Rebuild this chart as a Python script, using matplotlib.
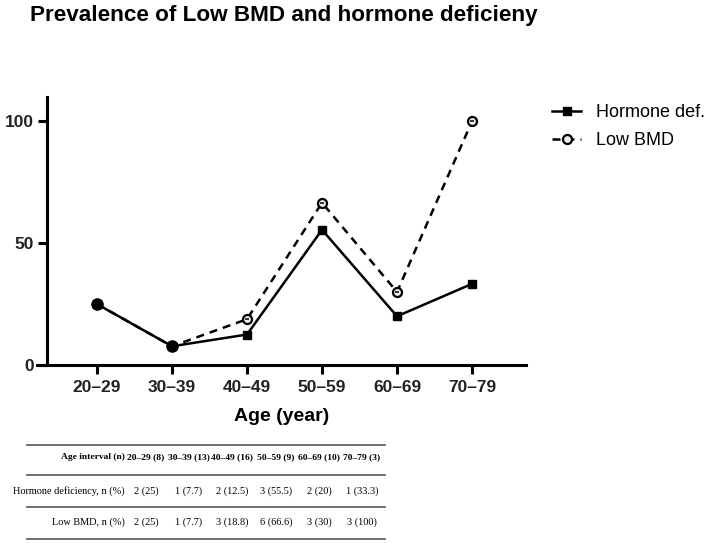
import numpy as np
import matplotlib
matplotlib.use("Agg")
import matplotlib.pyplot as plt

# DATOS
age_groups = ["20–29", "30–39", "40–49", "50–59", "60–69", "70–79"]
group_n = [8, 13, 16, 9, 10, 3]
hormone_n = [2, 1, 2, 3, 2, 1]
hormone_pct = [25, 7.7, 12.5, 55.5, 20, 33.3]
bmd_n = [2, 1, 3, 6, 3, 3]
bmd_pct = [25, 7.7, 18.8, 66.6, 30, 100]

W, H = 717, 545
fig = plt.figure(figsize=(W / 100, H / 100), dpi=100)
plt.rcParams['font.family'] = ['Liberation Sans', 'DejaVu Sans']

# EJES
x_left_px, x_right_px, y_bot_px, y_top_px = 37, 526, 365, 97
ax = fig.add_axes([x_left_px / W, 1 - y_bot_px / H,
                   (x_right_px - x_left_px) / W, (y_bot_px - y_top_px) / H])
x = np.arange(len(age_groups))
ax.set_xlim(-0.8, 5.72)
ax.set_ylim(0, 110)

ax.plot(x, bmd_pct, color="black", linestyle=(0, (3.2, 2.4)), linewidth=1.8,
        marker="o", markersize=6.5, mfc="#eeeeee", mec="black", mew=1.6,
        label="Low BMD", zorder=3)
ax.plot(x, bmd_pct, linestyle="none", marker="_", markersize=3.5, color="black",
        mew=1.1, zorder=4)
ax.plot(x, hormone_pct, color="black", linewidth=1.8, marker="s", markersize=6,
        label="Hormone def.", zorder=5)
same = np.isclose(hormone_pct, bmd_pct)
ax.plot(x[same], np.array(hormone_pct)[same], linestyle="none", marker="o",
        markersize=8, color="black", zorder=6)

for s in ["top", "right"]:
    ax.spines[s].set_visible(False)
ax.spines["left"].set_position(("data", -0.667))
ax.spines["left"].set_linewidth(2.2)
ax.spines["bottom"].set_linewidth(2.2)
ax.set_yticks([0, 50, 100])
ax.set_xticks(x)
ax.set_xticklabels(age_groups)
ax.tick_params(axis="both", width=2.2, length=6.5, labelsize=12.5, pad=3)
ax.tick_params(axis="x", pad=4)
for lbl in ax.get_xticklabels() + ax.get_yticklabels():
    lbl.set_fontweight("bold")
    lbl.set_color("#222222")
ax.set_xlabel("Age (year)", fontsize=14, fontweight="bold", labelpad=10)

handles, labels = ax.get_legend_handles_labels()
fig.legend(handles[::-1], labels[::-1], loc="upper left",
           bbox_to_anchor=(536 / W, 1 - 88 / H), frameon=False, fontsize=13,
           handlelength=1.6, labelspacing=0.6, handletextpad=0.8)

fig.text(30 / W, 1 - 16 / H, "Prevalence of Low BMD and hormone deficieny",
         fontsize=16.2, fontweight="bold", va="center", ha="left")

# TABLA
serif = ["Liberation Serif", "DejaVu Serif"]
tx0, tx1 = 27 / W, 385 / W
for ypx in [445, 475, 507, 539]:
    fig.add_artist(plt.Line2D([tx0, tx1], [1 - ypx / H] * 2, color="#555555",
                              linewidth=1.2))

col_x = [146, 189, 232, 276, 319, 362]
label_x = 125
rows = [
    ("Age interval (n)", [f"{g} ({n})" for g, n in zip(age_groups, group_n)], 457, "bold", 6.8),
    ("Hormone deficiency, n (%)", [f"{n} ({p:g})" for n, p in zip(hormone_n, hormone_pct)], 491, "normal", 7.4),
    ("Low BMD, n (%)", [f"{n} ({p:g})" for n, p in zip(bmd_n, bmd_pct)], 522, "normal", 7.4),
]
for head, cells, ypx, wt, fs in rows:
    fig.text(label_x / W, 1 - ypx / H, head, family=serif, fontsize=fs,
             fontweight=wt, ha="right", va="center")
    for cx, c in zip(col_x, cells):
        fig.text(cx / W, 1 - ypx / H, c, family=serif, fontsize=fs,
                 fontweight=wt, ha="center", va="center")

fig.savefig("out.png", dpi=100)
